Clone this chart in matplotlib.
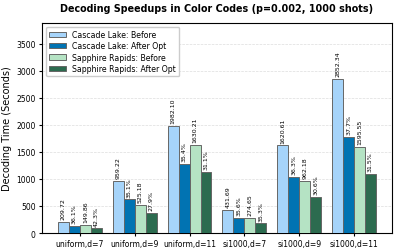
import numpy as np
import matplotlib
matplotlib.use('Agg')
import matplotlib.pyplot as plt

categories = ['uniform,d=7', 'uniform,d=9', 'uniform,d=11',
              'si1000,d=7', 'si1000,d=9', 'si1000,d=11']
cascade_before = [209.72, 959.22, 1982.10, 431.69, 1620.61, 2852.34]
cascade_after = [134.0, 622.5, 1280.4, 278.0, 1032.3, 1777.0]
cascade_pct = [36.1, 35.1, 35.4, 35.6, 36.3, 37.7]
sapphire_before = [149.86, 525.18, 1630.21, 274.65, 962.18, 1595.55]
sapphire_after = [86.5, 378.6, 1123.2, 177.7, 667.8, 1093.0]
sapphire_pct = [42.3, 27.9, 31.1, 35.3, 30.6, 31.5]

colors = ['#a6d4fa', '#0173b2', '#b5e3c4', '#2c6b4f']

fig, ax = plt.subplots(figsize=(3.97, 2.53), dpi=100)
fig.subplots_adjust(left=0.106, right=0.987, bottom=0.075, top=0.905)

x = np.arange(len(categories))
w = 0.2
series = [
    (cascade_before, 'Cascade Lake: Before', None),
    (cascade_after, 'Cascade Lake: After Opt', cascade_pct),
    (sapphire_before, 'Sapphire Rapids: Before', None),
    (sapphire_after, 'Sapphire Rapids: After Opt', sapphire_pct),
]
for i, (vals, lab, pct) in enumerate(series):
    bars = ax.bar(x + (i - 1.5) * w, vals, w, label=lab, color=colors[i],
                  edgecolor='#666666', linewidth=0.7, zorder=3)
    if pct is None:
        texts = ['%.2f' % v for v in vals]
    else:
        texts = ['%.1f%%' % p for p in pct]
    ax.bar_label(bars, labels=texts, rotation=90, fontsize=4.5, padding=2)

ax.set_ylim(0, max(cascade_before) * 1.36)
ax.set_xticks(x)
ax.set_xticklabels(categories, fontsize=5.5)
ax.tick_params(axis='y', labelsize=5.5, length=2.5, pad=2)
ax.tick_params(axis='x', length=2.5, pad=2)
ax.set_ylabel('Decoding Time (Seconds)', fontsize=7, labelpad=3)
ax.set_title('Decoding Speedups in Color Codes (p=0.002, 1000 shots)',
             fontsize=6.9, fontweight='bold', pad=9)
ax.grid(axis='y', linestyle='--', linewidth=0.5, color='#dddddd', zorder=0)
ax.legend(loc='upper left', fontsize=5.6, framealpha=1, edgecolor='#cccccc',
          borderpad=0.4, labelspacing=0.3, handlelength=2.2)

plt.savefig('out.png', dpi=100)
